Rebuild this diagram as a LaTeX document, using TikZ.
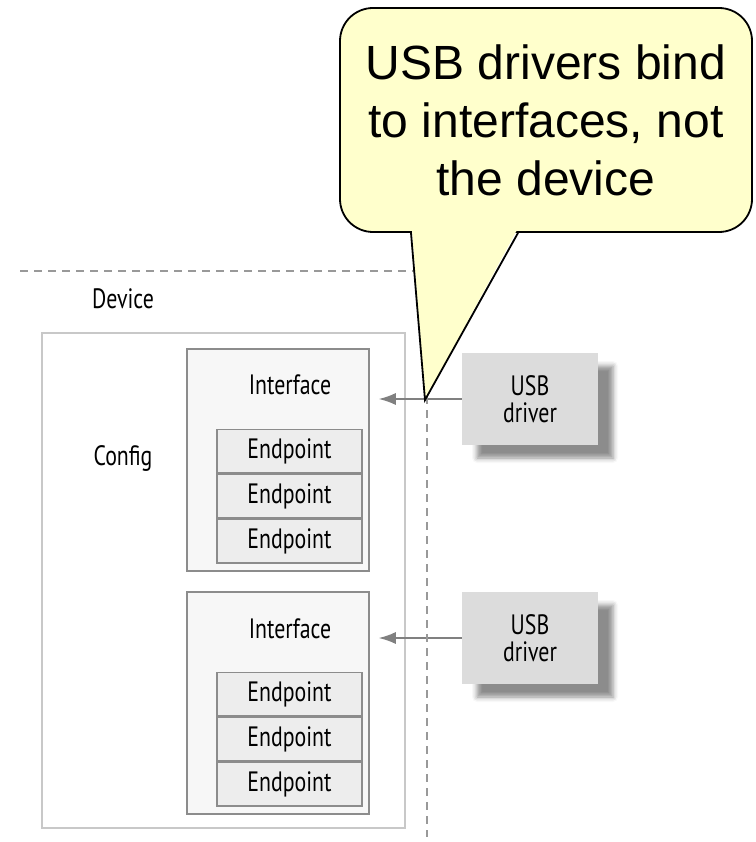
\documentclass[tikz,border=0pt]{standalone}
\usepackage{fontspec}
\setmainfont{Liberation Sans}
\newfontfamily\figfont[FakeStretch=0.78]{PT Sans}
\usetikzlibrary{positioning,arrows.meta,shadows.blur}
\definecolor{notefill}{HTML}{FFFFCC}
\definecolor{cfgline}{HTML}{C8C8C8}
\definecolor{boxline}{HTML}{8C8C8C}
\definecolor{ifacefill}{HTML}{F7F7F7}
\definecolor{epfill}{HTML}{EDEDED}
\definecolor{drvfill}{HTML}{DCDCDC}
\definecolor{dashgray}{HTML}{999999}
\definecolor{arrowgray}{HTML}{808080}
\tikzstyle{figtext} = [font=\figfont\fontsize{28}{27}\selectfont, text=black, inner sep=0pt]
\tikzstyle{configbox} = [rectangle, draw=cfgline, line width=1.5pt, minimum width=363pt, minimum height=495pt]
\tikzstyle{ifacebox} = [rectangle, draw=boxline, fill=ifacefill, line width=1.5pt, minimum width=182pt, minimum height=222pt]
\tikzstyle{epbox} = [rectangle, draw=boxline, fill=epfill, line width=1.5pt, minimum width=145pt, minimum height=43.5pt, figtext]
\tikzstyle{driver} = [rectangle, fill=drvfill, minimum width=136pt, minimum height=92pt, align=center, figtext, blur shadow={shadow xshift=15pt, shadow yshift=-13pt, shadow blur radius=5pt, shadow opacity=45}]
\tikzstyle{arrow} = [line width=1.5pt, draw=arrowgray, -{Latex[length=17pt,width=12pt]}]
\tikzstyle{border} = [dash pattern=on 8pt off 6pt, line width=1.3pt, draw=dashgray]
\tikzstyle{note} = [rectangle, rounded corners=33pt, draw=black, line width=1.8pt, fill=notefill, minimum width=412pt, minimum height=224pt, align=center, font=\fontsize{48}{58}\selectfont]

\begin{document}
\begin{tikzpicture}[x=1pt, y=-1pt]
\useasboundingbox (0,0) rectangle (755,842);

\node (device) [figtext] at (123,299) {Device};
\node (config) [configbox] at (223.5,580.5) {};
\node (cfglabel) [figtext] at (123,458) {Config};

% first interface
\node (if1) [ifacebox] at (278,460) {};
\node (if1label) [figtext] at (290,385) {Interface};
\node (ep1a) [epbox] at (289.5,451) {Endpoint};
\node (ep1b) [epbox, below=0pt of ep1a] {Endpoint};
\node (ep1c) [epbox, below=0pt of ep1b] {Endpoint};

% second interface
\node (if2) [ifacebox] at (278,703) {};
\node (if2label) [figtext] at (290,629) {Interface};
\node (ep2a) [epbox] at (289.5,694) {Endpoint};
\node (ep2b) [epbox, below=0pt of ep2a] {Endpoint};
\node (ep2c) [epbox, below=0pt of ep2b] {Endpoint};

% drivers
\node (drv1) [driver] at (530,399) {USB\\driver};
\node (drv2) [driver] at (530,638) {USB\\driver};
\draw [arrow, shorten >=9pt] (drv1.west) -- (drv1.west -| if1.east);
\draw [arrow, shorten >=9pt] (drv2.west) -- (drv2.west -| if2.east);

% device border
\coordinate (hstart) at (20,271);
\coordinate (corner) at (427,271);
\coordinate (vend) at (427,837);
\draw [border] (hstart) -- (corner) -- (vend);

% callout
\node (note) [note] at (546,120) {USB drivers bind\\to interfaces, not\\the device};
\coordinate (tip) at (425,400);
\fill [notefill] ([xshift=-134pt, yshift=3pt]note.south) -- (tip) -- ([xshift=-29pt, yshift=3pt]note.south) -- cycle;
\draw [line width=1.8pt] ([xshift=-135pt]note.south) -- (tip) -- ([xshift=-28pt]note.south);

\end{tikzpicture}
\end{document}
